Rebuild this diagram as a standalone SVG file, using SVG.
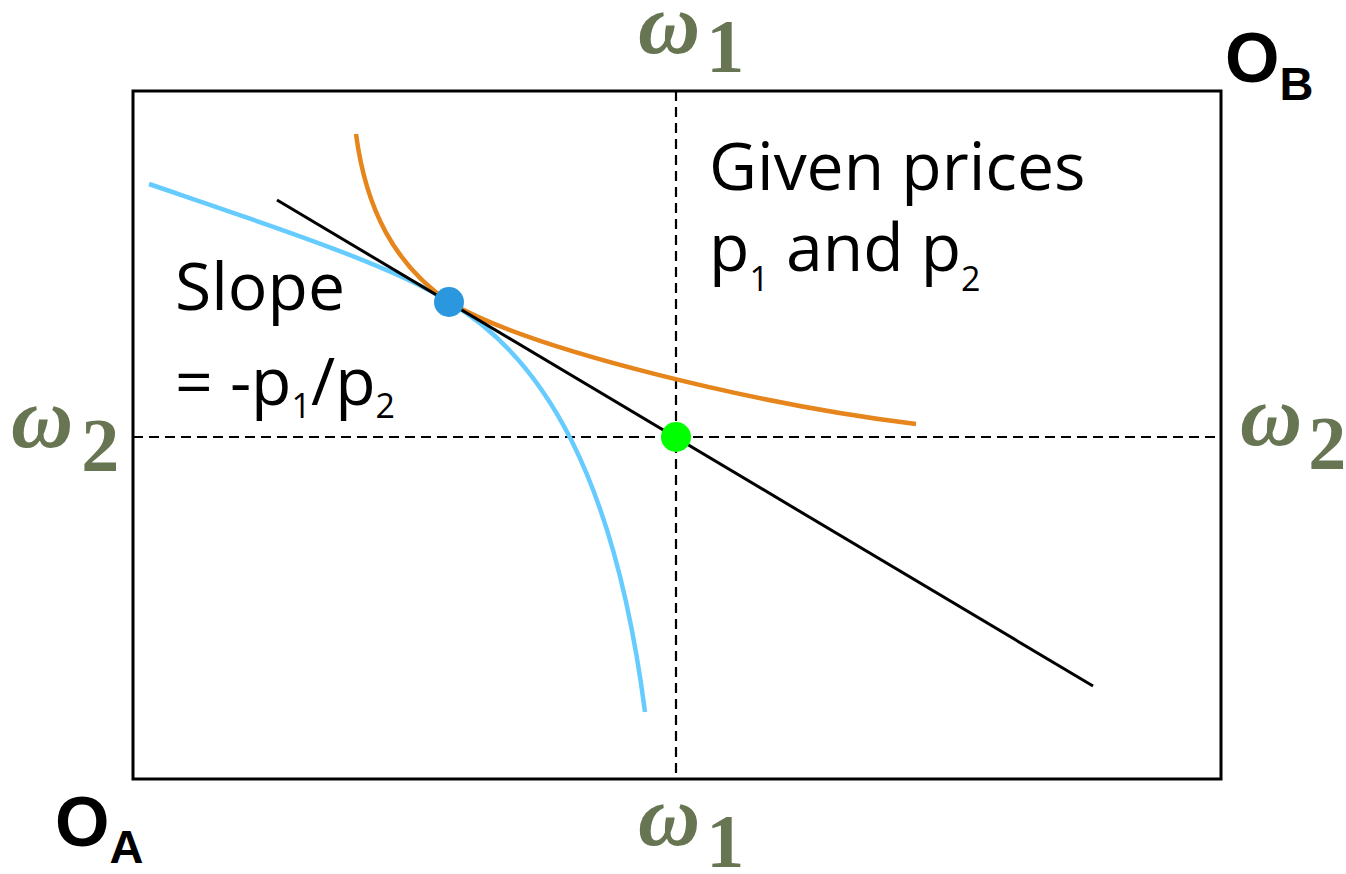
<svg xmlns="http://www.w3.org/2000/svg" width="1346" height="874" viewBox="0 0 1346 874">
<style>
.box{fill:none;stroke:#000;stroke-width:3}
.dash{fill:none;stroke:#000;stroke-width:2.2;stroke-dasharray:10 6}
.omega{font-family:"Liberation Serif",serif;font-weight:bold;fill:#677553}
.w{font-style:italic;font-size:86px}
.lbl{font-family:"Open Sans",sans-serif;fill:#000}
.orig{font-family:"Liberation Sans",Arial,sans-serif;font-weight:bold;fill:#000}
</style>
<rect width="1346" height="874" fill="#fff"/>
<rect class="box" x="133" y="91" width="1088" height="688"/>
<g id="connectors">
<line class="dash" x1="676" y1="91" x2="676" y2="779"/>
<line class="dash" x1="133" y1="437" x2="1221" y2="437"/>
<path id="curveA" d="M149,184 C260,222 395,266 449,302 C545,358 615,480 645,712" fill="none" stroke="#66CCFF" stroke-width="4.5"/>
<path id="curveB" d="M356,134 C366,210 395,265 449,302 C530,350 760,405 916,424" fill="none" stroke="#E5851B" stroke-width="4.5"/>
<line id="budget" x1="277" y1="200" x2="1093" y2="686" stroke="#000" stroke-width="3"/>
</g>
<g id="blueDot"><circle cx="449" cy="302" r="15" fill="#2A97DE"/></g>
<g id="greenDot"><circle cx="676" cy="437" r="15" fill="#00FF00"/></g>
<g id="omegaTop"><text class="omega" x="638" y="53" font-size="76"><tspan class="w">ω</tspan><tspan dx="6" dy="19">1</tspan></text></g>
<g id="omegaBottom"><text class="omega" x="638" y="845" font-size="76"><tspan class="w">ω</tspan><tspan dx="6" dy="22">1</tspan></text></g>
<g id="omegaLeft"><text class="omega" x="11" y="447" font-size="76"><tspan class="w">ω</tspan><tspan dx="8" dy="24">2</tspan></text></g>
<g id="omegaRight"><text class="omega" x="1240" y="445" font-size="76"><tspan class="w">ω</tspan><tspan dx="6" dy="24">2</tspan></text></g>
<g id="OB"><text class="orig" x="1225" y="82" font-size="70">O<tspan font-size="47" dy="18">B</tspan></text></g>
<g id="OA"><text class="orig" x="55" y="846" font-size="70">O<tspan font-size="47" dy="17">A</tspan></text></g>
<g id="given"><text class="lbl" x="709" y="190" font-size="66">Given prices</text>
<text class="lbl" x="709" y="271" font-size="66">p<tspan font-size="34" dy="20">1</tspan><tspan dy="-20"> and p</tspan><tspan font-size="34" dy="20">2</tspan></text></g>
<g id="slope"><text class="lbl" x="175" y="310" font-size="66">Slope</text>
<text class="lbl" x="175" y="405" font-size="66">= -p<tspan font-size="34" dy="13">1</tspan><tspan dy="-13">/p</tspan><tspan font-size="34" dy="13">2</tspan></text></g>
</svg>
